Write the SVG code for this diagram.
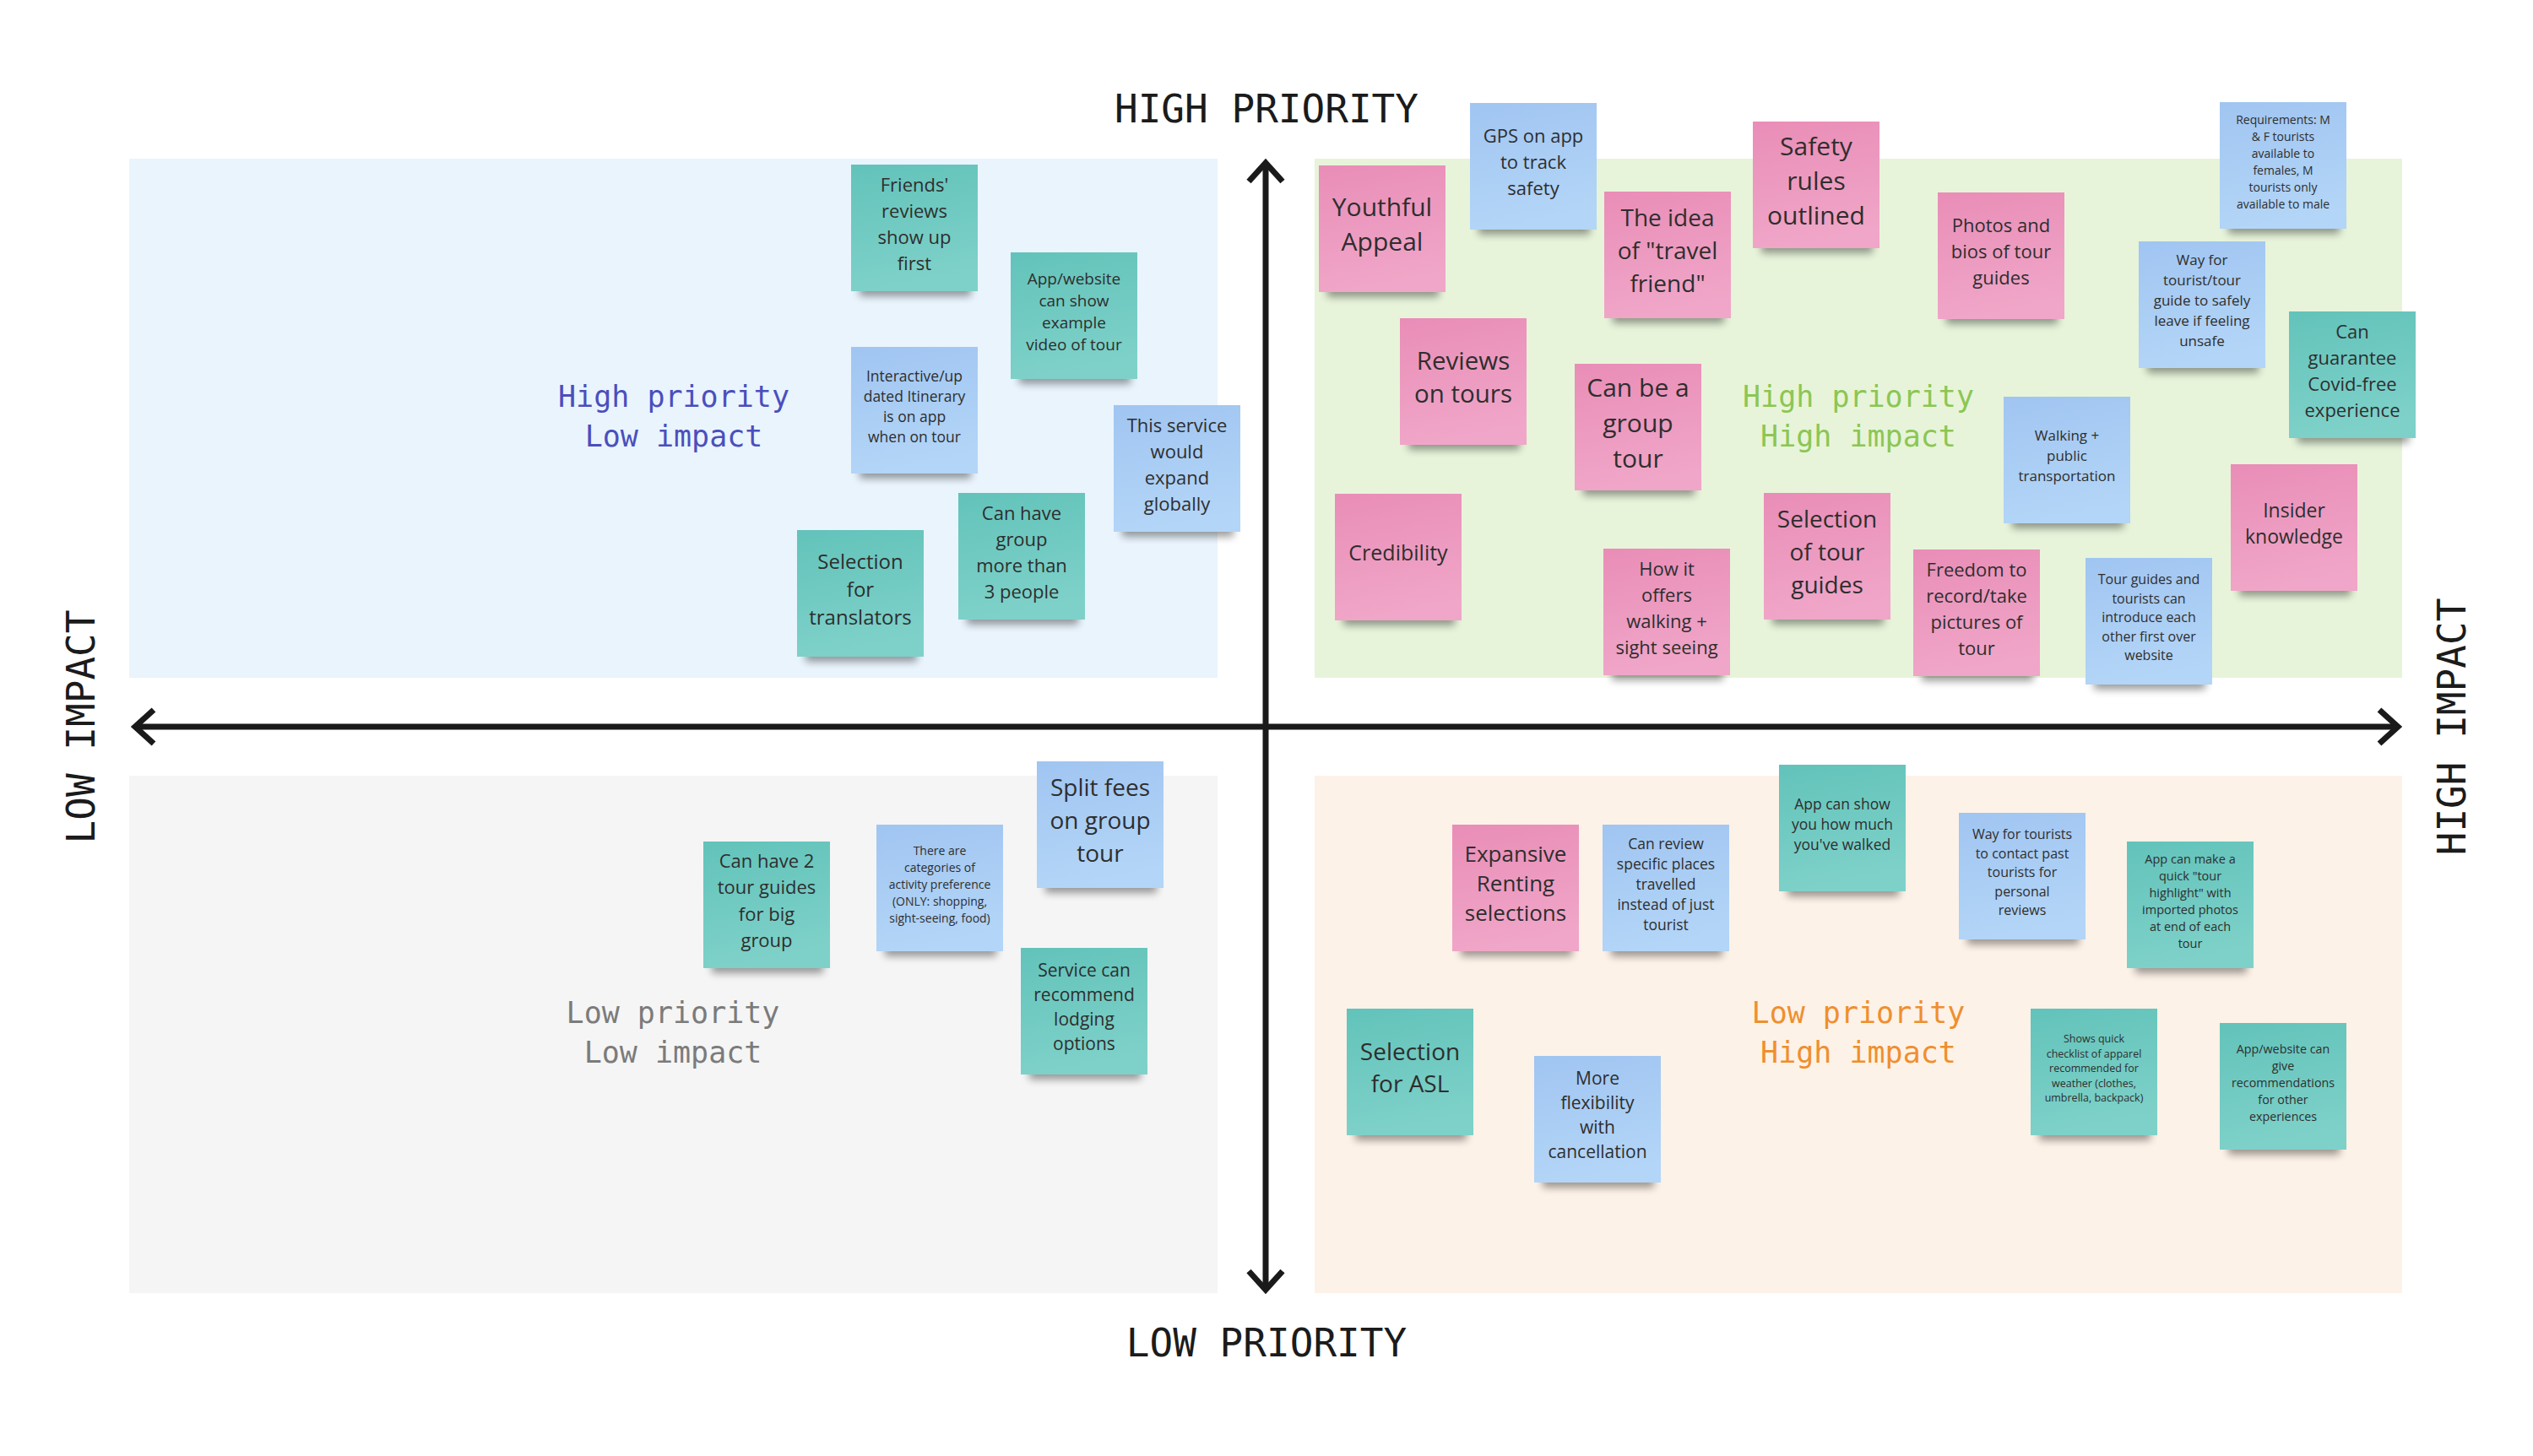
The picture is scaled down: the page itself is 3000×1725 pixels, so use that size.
<svg xmlns="http://www.w3.org/2000/svg" width="3000" height="1725" viewBox="0 0 3000 1725">
<style>
.t{font-family:"Open Sans","Noto Sans","Liberation Sans",sans-serif;fill:#2e2e2e;text-anchor:middle}
.m{font-family:"DejaVu Sans Mono","Liberation Mono",monospace;text-anchor:middle}
.ax{font-size:46px;fill:#1b1b1b}
.ql{font-size:35px}
.teal{fill:url(#gT)}
.pink{fill:url(#gP)}
.blue{fill:url(#gB)}
.sh{fill:#000;opacity:.38;filter:url(#blur)}
.axis{stroke:#1a1a1a;stroke-width:7;fill:none;marker-start:url(#chev);marker-end:url(#chev)}
</style>
<defs>
<linearGradient id="gT" x1="0" y1="0" x2="0.2" y2="1"><stop offset="0" stop-color="#62c3ba"/><stop offset="1" stop-color="#7ed1c9"/></linearGradient>
<linearGradient id="gP" x1="0" y1="0" x2="0.2" y2="1"><stop offset="0" stop-color="#e98db7"/><stop offset="1" stop-color="#f0a6c8"/></linearGradient>
<linearGradient id="gB" x1="0" y1="0" x2="0.2" y2="1"><stop offset="0" stop-color="#a0c5f1"/><stop offset="1" stop-color="#b3d5f7"/></linearGradient>
<filter id="blur" x="-20%" y="-100%" width="140%" height="300%"><feGaussianBlur stdDeviation="5"/></filter>
<marker id="chev" viewBox="-30 -30 40 60" markerWidth="40" markerHeight="60" refX="0" refY="0" orient="auto-start-reverse" markerUnits="userSpaceOnUse" overflow="visible"><path d="M-22,-20 L0,0 L-22,20" fill="none" stroke="#1a1a1a" stroke-width="7"/></marker>
</defs>
<rect width="3000" height="1725" fill="#ffffff"/>
<g id="quadrants">
<rect x="153" y="188" width="1289" height="615" fill="#eaf4fd"/>
<rect x="1557" y="188" width="1288" height="615" fill="#e7f4da"/>
<rect x="153" y="919" width="1289" height="613" fill="#f5f5f5"/>
<rect x="1557" y="919" width="1288" height="613" fill="#fdf2e8"/>
</g>
<g id="quadrant-labels">
<text class="m ql" fill="#4a4fbd" x="798" y="482">High priority<tspan x="798" dy="47">Low impact</tspan></text>
<text class="m ql" fill="#8cc653" x="2201" y="482">High priority<tspan x="2201" dy="47">High impact</tspan></text>
<text class="m ql" fill="#7b7b7b" x="797" y="1212">Low priority<tspan x="797" dy="47">Low impact</tspan></text>
<text class="m ql" fill="#ef8f2e" x="2201" y="1212">Low priority<tspan x="2201" dy="47">High impact</tspan></text>
</g>
<g id="connectors">
<line class="axis" x1="1499" y1="1528" x2="1499" y2="193"/>
<line class="axis" x1="160" y1="861" x2="2840" y2="861"/>
</g>
<g id="axis-labels">
<text class="m ax" x="1500" y="145">HIGH PRIORITY</text>
<text class="m ax" x="1500" y="1607">LOW PRIORITY</text>
<text class="m ax" transform="translate(112,861) rotate(-90)">LOW IMPACT</text>
<text class="m ax" transform="translate(2920,861) rotate(-90)">HIGH IMPACT</text>
</g>

<g id="n1" transform="translate(1008,195)"><rect class="sh" x="10" y="136" width="132" height="20"/><rect class="teal" width="150" height="150"/><text class="t" font-size="22" y="31.5"><tspan x="75">Friends'</tspan><tspan x="75" dy="31">reviews</tspan><tspan x="75" dy="31">show up</tspan><tspan x="75" dy="31">first</tspan></text></g>
<g id="n2" transform="translate(1197,299)"><rect class="sh" x="10" y="136" width="132" height="20"/><rect class="teal" width="150" height="150"/><text class="t" font-size="19" y="38.1"><tspan x="75">App/website</tspan><tspan x="75" dy="26">can show</tspan><tspan x="75" dy="26">example</tspan><tspan x="75" dy="26">video of tour</tspan></text></g>
<g id="n3" transform="translate(1008,411)"><rect class="sh" x="10" y="136" width="132" height="20"/><rect class="blue" width="150" height="150"/><text class="t" font-size="17.5" y="40.6"><tspan x="75">Interactive/up</tspan><tspan x="75" dy="24">dated Itinerary</tspan><tspan x="75" dy="24">is on app</tspan><tspan x="75" dy="24">when on tour</tspan></text></g>
<g id="n4" transform="translate(1319,480)"><rect class="sh" x="10" y="136" width="132" height="20"/><rect class="blue" width="150" height="150"/><text class="t" font-size="22" y="31.5"><tspan x="75">This service</tspan><tspan x="75" dy="31">would</tspan><tspan x="75" dy="31">expand</tspan><tspan x="75" dy="31">globally</tspan></text></g>
<g id="n5" transform="translate(1135,584)"><rect class="sh" x="10" y="136" width="132" height="20"/><rect class="teal" width="150" height="150"/><text class="t" font-size="22" y="31.5"><tspan x="75">Can have</tspan><tspan x="75" dy="31">group</tspan><tspan x="75" dy="31">more than</tspan><tspan x="75" dy="31">3 people</tspan></text></g>
<g id="n6" transform="translate(944,628)"><rect class="sh" x="10" y="136" width="132" height="20"/><rect class="teal" width="150" height="150"/><text class="t" font-size="24" y="45.7"><tspan x="75">Selection</tspan><tspan x="75" dy="33">for</tspan><tspan x="75" dy="33">translators</tspan></text></g>

<g id="n7" transform="translate(1562,196)"><rect class="sh" x="10" y="136" width="132" height="20"/><rect class="pink" width="150" height="150"/><text class="t" font-size="30" y="60.1"><tspan x="75">Youthful</tspan><tspan x="75" dy="41">Appeal</tspan></text></g>
<g id="n8" transform="translate(1741,122)"><rect class="sh" x="10" y="136" width="132" height="20"/><rect class="blue" width="150" height="150"/><text class="t" font-size="22" y="47"><tspan x="75">GPS on app</tspan><tspan x="75" dy="31">to track</tspan><tspan x="75" dy="31">safety</tspan></text></g>
<g id="n9" transform="translate(1900,227)"><rect class="sh" x="10" y="136" width="132" height="20"/><rect class="pink" width="150" height="150"/><text class="t" font-size="28" y="41"><tspan x="75">The idea</tspan><tspan x="75" dy="39">of "travel</tspan><tspan x="75" dy="39">friend"</tspan></text></g>
<g id="n10" transform="translate(2076,144)"><rect class="sh" x="10" y="136" width="132" height="20"/><rect class="pink" width="150" height="150"/><text class="t" font-size="30" y="39.6"><tspan x="75">Safety</tspan><tspan x="75" dy="41">rules</tspan><tspan x="75" dy="41">outlined</tspan></text></g>
<g id="n11" transform="translate(2295,228)"><rect class="sh" x="10" y="136" width="132" height="20"/><rect class="pink" width="150" height="150"/><text class="t" font-size="22" y="47"><tspan x="75">Photos and</tspan><tspan x="75" dy="31">bios of tour</tspan><tspan x="75" dy="31">guides</tspan></text></g>
<g id="n12" transform="translate(2629,121)"><rect class="sh" x="10" y="136" width="132" height="20"/><rect class="blue" width="150" height="150"/><text class="t" font-size="14" y="25.5"><tspan x="75">Requirements: M</tspan><tspan x="75" dy="20">&amp; F tourists</tspan><tspan x="75" dy="20">available to</tspan><tspan x="75" dy="20">females, M</tspan><tspan x="75" dy="20">tourists only</tspan><tspan x="75" dy="20">available to male</tspan></text></g>
<g id="n13" transform="translate(2533,286)"><rect class="sh" x="10" y="136" width="132" height="20"/><rect class="blue" width="150" height="150"/><text class="t" font-size="17" y="28.4"><tspan x="75">Way for</tspan><tspan x="75" dy="24">tourist/tour</tspan><tspan x="75" dy="24">guide to safely</tspan><tspan x="75" dy="24">leave if feeling</tspan><tspan x="75" dy="24">unsafe</tspan></text></g>
<g id="n14" transform="translate(2711,369)"><rect class="sh" x="10" y="136" width="132" height="20"/><rect class="teal" width="150" height="150"/><text class="t" font-size="22" y="31.5"><tspan x="75">Can</tspan><tspan x="75" dy="31">guarantee</tspan><tspan x="75" dy="31">Covid-free</tspan><tspan x="75" dy="31">experience</tspan></text></g>
<g id="n15" transform="translate(1658,377)"><rect class="sh" x="10" y="136" width="132" height="20"/><rect class="pink" width="150" height="150"/><text class="t" font-size="29.5" y="60.9"><tspan x="75">Reviews</tspan><tspan x="75" dy="39">on tours</tspan></text></g>
<g id="n16" transform="translate(1865,431)"><rect class="sh" x="10" y="136" width="132" height="20"/><rect class="pink" width="150" height="150"/><text class="t" font-size="30" y="38.6"><tspan x="75">Can be a</tspan><tspan x="75" dy="42">group</tspan><tspan x="75" dy="42">tour</tspan></text></g>
<g id="n17" transform="translate(2373,470)"><rect class="sh" x="10" y="136" width="132" height="20"/><rect class="blue" width="150" height="150"/><text class="t" font-size="17" y="52.4"><tspan x="75">Walking +</tspan><tspan x="75" dy="24">public</tspan><tspan x="75" dy="24">transportation</tspan></text></g>
<g id="n18" transform="translate(2642,550)"><rect class="sh" x="10" y="136" width="132" height="20"/><rect class="pink" width="150" height="150"/><text class="t" font-size="23" y="62.9"><tspan x="75">Insider</tspan><tspan x="75" dy="31">knowledge</tspan></text></g>
<g id="n19" transform="translate(1581,585)"><rect class="sh" x="10" y="136" width="132" height="20"/><rect class="pink" width="150" height="150"/><text class="t" font-size="25" y="79"><tspan x="75">Credibility</tspan></text></g>
<g id="n20" transform="translate(1899,650)"><rect class="sh" x="10" y="136" width="132" height="20"/><rect class="pink" width="150" height="150"/><text class="t" font-size="22" y="31.5"><tspan x="75">How it</tspan><tspan x="75" dy="31">offers</tspan><tspan x="75" dy="31">walking +</tspan><tspan x="75" dy="31">sight seeing</tspan></text></g>
<g id="n21" transform="translate(2089,584)"><rect class="sh" x="10" y="136" width="132" height="20"/><rect class="pink" width="150" height="150"/><text class="t" font-size="28" y="41"><tspan x="75">Selection</tspan><tspan x="75" dy="39">of tour</tspan><tspan x="75" dy="39">guides</tspan></text></g>
<g id="n22" transform="translate(2266,651)"><rect class="sh" x="10" y="136" width="132" height="20"/><rect class="pink" width="150" height="150"/><text class="t" font-size="22" y="31.5"><tspan x="75">Freedom to</tspan><tspan x="75" dy="31">record/take</tspan><tspan x="75" dy="31">pictures of</tspan><tspan x="75" dy="31">tour</tspan></text></g>
<g id="n23" transform="translate(2470,661)"><rect class="sh" x="10" y="136" width="132" height="20"/><rect class="blue" width="150" height="150"/><text class="t" font-size="16" y="31.1"><tspan x="75">Tour guides and</tspan><tspan x="75" dy="22.5">tourists can</tspan><tspan x="75" dy="22.5">introduce each</tspan><tspan x="75" dy="22.5">other first over</tspan><tspan x="75" dy="22.5">website</tspan></text></g>

<g id="n24" transform="translate(833,997)"><rect class="sh" x="10" y="136" width="132" height="20"/><rect class="teal" width="150" height="150"/><text class="t" font-size="22" y="30.75"><tspan x="75">Can have 2</tspan><tspan x="75" dy="31.5">tour guides</tspan><tspan x="75" dy="31.5">for big</tspan><tspan x="75" dy="31.5">group</tspan></text></g>
<g id="n25" transform="translate(1038,977)"><rect class="sh" x="10" y="136" width="132" height="20"/><rect class="blue" width="150" height="150"/><text class="t" font-size="14" y="35.5"><tspan x="75">There are</tspan><tspan x="75" dy="20">categories of</tspan><tspan x="75" dy="20">activity preference</tspan><tspan x="75" dy="20">(ONLY: shopping,</tspan><tspan x="75" dy="20">sight-seeing, food)</tspan></text></g>
<g id="n26" transform="translate(1228,902)"><rect class="sh" x="10" y="136" width="132" height="20"/><rect class="blue" width="150" height="150"/><text class="t" font-size="28" y="41"><tspan x="75">Split fees</tspan><tspan x="75" dy="39">on group</tspan><tspan x="75" dy="39">tour</tspan></text></g>
<g id="n27" transform="translate(1209,1123)"><rect class="sh" x="10" y="136" width="132" height="20"/><rect class="teal" width="150" height="150"/><text class="t" font-size="21" y="34.2"><tspan x="75">Service can</tspan><tspan x="75" dy="29">recommend</tspan><tspan x="75" dy="29">lodging</tspan><tspan x="75" dy="29">options</tspan></text></g>

<g id="n28" transform="translate(1720,977)"><rect class="sh" x="10" y="136" width="132" height="20"/><rect class="pink" width="150" height="150"/><text class="t" font-size="26" y="44.3"><tspan x="75">Expansive</tspan><tspan x="75" dy="35">Renting</tspan><tspan x="75" dy="35">selections</tspan></text></g>
<g id="n29" transform="translate(1898,977)"><rect class="sh" x="10" y="136" width="132" height="20"/><rect class="blue" width="150" height="150"/><text class="t" font-size="17.5" y="28.6"><tspan x="75">Can review</tspan><tspan x="75" dy="24">specific places</tspan><tspan x="75" dy="24">travelled</tspan><tspan x="75" dy="24">instead of just</tspan><tspan x="75" dy="24">tourist</tspan></text></g>
<g id="n30" transform="translate(2107,906)"><rect class="sh" x="10" y="136" width="132" height="20"/><rect class="teal" width="150" height="150"/><text class="t" font-size="17.5" y="52.6"><tspan x="75">App can show</tspan><tspan x="75" dy="24">you how much</tspan><tspan x="75" dy="24">you've walked</tspan></text></g>
<g id="n31" transform="translate(2320,963)"><rect class="sh" x="10" y="136" width="132" height="20"/><rect class="blue" width="150" height="150"/><text class="t" font-size="16" y="31.1"><tspan x="75">Way for tourists</tspan><tspan x="75" dy="22.5">to contact past</tspan><tspan x="75" dy="22.5">tourists for</tspan><tspan x="75" dy="22.5">personal</tspan><tspan x="75" dy="22.5">reviews</tspan></text></g>
<g id="n32" transform="translate(2519,997)"><rect class="sh" x="10" y="136" width="132" height="20"/><rect class="teal" width="150" height="150"/><text class="t" font-size="14.5" y="25.6"><tspan x="75">App can make a</tspan><tspan x="75" dy="20">quick "tour</tspan><tspan x="75" dy="20">highlight" with</tspan><tspan x="75" dy="20">imported photos</tspan><tspan x="75" dy="20">at end of each</tspan><tspan x="75" dy="20">tour</tspan></text></g>
<g id="n33" transform="translate(1595,1195)"><rect class="sh" x="10" y="136" width="132" height="20"/><rect class="teal" width="150" height="150"/><text class="t" font-size="28" y="61"><tspan x="75">Selection</tspan><tspan x="75" dy="38">for ASL</tspan></text></g>
<g id="n34" transform="translate(1817,1251)"><rect class="sh" x="10" y="136" width="132" height="20"/><rect class="blue" width="150" height="150"/><text class="t" font-size="21" y="34.2"><tspan x="75">More</tspan><tspan x="75" dy="29">flexibility</tspan><tspan x="75" dy="29">with</tspan><tspan x="75" dy="29">cancellation</tspan></text></g>
<g id="n35" transform="translate(2405,1195)"><rect class="sh" x="10" y="136" width="132" height="20"/><rect class="teal" width="150" height="150"/><text class="t" font-size="12.5" y="40"><tspan x="75">Shows quick</tspan><tspan x="75" dy="17.5">checklist of apparel</tspan><tspan x="75" dy="17.5">recommended for</tspan><tspan x="75" dy="17.5">weather (clothes,</tspan><tspan x="75" dy="17.5">umbrella, backpack)</tspan></text></g>
<g id="n36" transform="translate(2629,1212)"><rect class="sh" x="10" y="136" width="132" height="20"/><rect class="teal" width="150" height="150"/><text class="t" font-size="14.3" y="35.6"><tspan x="75">App/website can</tspan><tspan x="75" dy="20">give</tspan><tspan x="75" dy="20">recommendations</tspan><tspan x="75" dy="20">for other</tspan><tspan x="75" dy="20">experiences</tspan></text></g>
</svg>
